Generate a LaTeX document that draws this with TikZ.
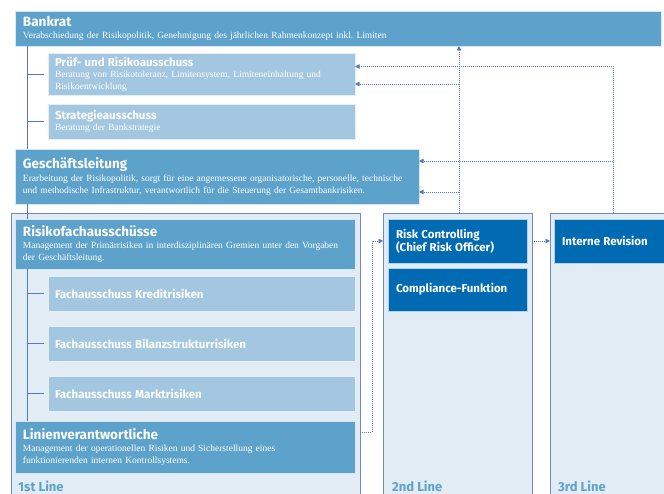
\documentclass[tikz,border=0pt]{standalone}
\usepackage{fontspec}
\setmainfont{Liberation Serif}
\newfontfamily\hdfont{Fira Sans}
\usetikzlibrary{arrows.meta,calc}
\definecolor{midblue}{RGB}{93,162,203}
\definecolor{lightblue}{RGB}{164,199,225}
\definecolor{darkblue}{RGB}{0,107,179}
\definecolor{panelfill}{RGB}{226,236,245}
\definecolor{panelline}{RGB}{112,137,194}
\definecolor{treeline}{RGB}{88,119,198}
\definecolor{connline}{RGB}{82,119,204}
\definecolor{labelblue}{RGB}{93,162,203}
\newcommand{\hdbig}{\hdfont\bfseries\fontsize{13.5}{15}\selectfont}
\newcommand{\hdmid}{\hdfont\bfseries\fontsize{11.5}{13.5}\selectfont}
\newcommand{\bdtext}{\fontsize{9.5}{11.6}\selectfont}
\begin{document}
\begin{tikzpicture}[x=1pt,y=-1pt,
  box/.style={anchor=north west,inner xsep=8pt,inner ysep=0pt,outer sep=0pt,
    align=left,text=white,font=\bdtext,draw=white!75!midblue,line width=0.6pt},
  midbox/.style={box,fill=midblue},
  lightbox/.style={box,fill=lightblue,draw=white!70!lightblue},
  darkbox/.style={box,fill=darkblue,draw=white!70!darkblue},
  panel/.style={anchor=north west,fill=panelfill,draw=panelline,line width=0.8pt,
    inner sep=0pt,outer sep=0pt},
  linelabel/.style={anchor=south west,text=labelblue,font=\hdfont\bfseries\fontsize{13}{14}\selectfont,inner sep=0pt},
  tree/.style={draw=treeline,line width=0.8pt},
  conn/.style={draw=connline,line width=0.7pt,dash pattern=on 1pt off 1pt},
  tip/.style={-{Triangle[length=4.5pt,width=4.5pt]}}
]
\useasboundingbox (0,0) rectangle (664,494);
% panels
\node[panel,minimum width=349pt,minimum height=300pt] (panel1) at (11,213) {};
\node[panel,minimum width=149pt,minimum height=300pt] (panel2) at (383,213) {};
\node[panel,minimum width=126pt,minimum height=300pt] (panel3) at (550,213) {};
\node[linelabel] (l1) at (18,492) {1st Line};
\node[linelabel] (l2) at (392,492) {2nd Line};
\node[linelabel] (l3) at (558,492) {3rd Line};
% boxes
\node[midbox,minimum width=646pt,minimum height=35pt,text width=630pt] (bankrat) at (15,11)
  {{\hdbig Bankrat}\\[0pt]Verabschiedung der Risikopolitik, Genehmigung des jährlichen Rahmenkonzept inkl.\ Limiten};
\node[lightbox,minimum width=307pt,minimum height=42pt,text width=293pt,inner xsep=7pt] (pruef) at (48,53)
  {{\hdmid Prüf- und Risikoausschuss}\\[0pt]Beratung von Risikotoleranz, Limitensystem, Limiteneinhaltung und\\Risikoentwicklung};
\node[lightbox,minimum width=307pt,minimum height=35pt,text width=293pt,inner xsep=7pt] (strat) at (48,104)
  {{\hdmid Strategieausschuss}\\[0pt]Beratung der Bankstrategie};
\node[midbox,minimum width=404pt,minimum height=55pt,text width=388pt] (gl) at (15,149)
  {{\hdbig Geschäftsleitung}\\[1pt]Erarbeitung der Risikopolitik, sorgt für eine angemessene organisatorische, personelle, technische\\und methodische Infrastruktur, verantwortlich für die Steuerung der Gesamtbankrisiken.};
\node[midbox,minimum width=340pt,minimum height=50pt,text width=324pt] (rfa) at (15,219)
  {{\hdbig Risikofachausschüsse}\\[1pt]Management der Primärrisiken in interdisziplinären Gremien unter den Vorgaben\\der Geschäftsleitung.};
\node[lightbox,minimum width=307pt,minimum height=35pt,text width=293pt,inner xsep=7pt] (kredit) at (48,276)
  {\hdmid Fachausschuss Kreditrisiken};
\node[lightbox,minimum width=307pt,minimum height=35pt,text width=293pt,inner xsep=7pt] (bilanz) at (48,326)
  {\hdmid Fachausschuss Bilanzstrukturrisiken};
\node[lightbox,minimum width=307pt,minimum height=35pt,text width=293pt,inner xsep=7pt] (markt) at (48,376)
  {\hdmid Fachausschuss Marktrisiken};
\node[midbox,minimum width=340pt,minimum height=52pt,text width=324pt] (linien) at (15,421)
  {{\hdbig Linienverantwortliche}\\[1pt]Management der operationellen Risiken und Sicherstellung eines\\funktionierenden internen Kontrollsystems.};
\node[darkbox,minimum width=139pt,minimum height=44pt,text width=123pt] (rc) at (388,219)
  {\hdmid Risk Controlling\\(Chief Risk Officer)};
\node[darkbox,minimum width=139pt,minimum height=43pt,text width=123pt] (comp) at (388,268)
  {\hdmid Compliance-Funktion};
\node[darkbox,minimum width=122pt,minimum height=44pt,text width=106pt] (ir) at (554,219)
  {\hdmid Interne Revision};
% tree lines
\coordinate (t1) at ($(bankrat.south west)+(12,0)$);
\coordinate (t2) at ($(rfa.south west)+(12,0)$);
\draw[tree] (t1) -- (t1 |- gl.north);
\draw[tree] (t1 |- gl.south) -- (t1 |- rfa.north);
\draw[tree] (t1 |- pruef.west) -- ($(pruef.west)+(-4,0)$);
\draw[tree] (t1 |- strat.west) -- ($(strat.west)+(-4,0)$);
\draw[tree] (t2) -- (t2 |- linien.north);
\draw[tree] (t2 |- kredit.west) -- ($(kredit.west)+(-4,0)$);
\draw[tree] (t2 |- bilanz.west) -- ($(bilanz.west)+(-4,0)$);
\draw[tree] (t2 |- markt.west) -- ($(markt.west)+(-4,0)$);
% connectors
\coordinate (v2) at ($(panel2.north west)+(76,0)$);
\coordinate (v3) at (panel3.north);
\draw[conn,tip] (v2) -- (v2 |- bankrat.south);
\draw[conn,tip] ($(v2 |- pruef.east)+(0,10)$) -- ($(pruef.east)+(0,10)$);
\draw[conn,tip] ($(v2 |- gl.east)+(0,15.5)$) -- ($(gl.east)+(0,15.5)$);
\draw[conn,tip] (v3) -- ($(v3 |- pruef.east)+(0,-7.5)$) -- ($(pruef.east)+(0,-7.5)$);
\draw[conn,tip] ($(v3 |- gl.east)+(0,-15.5)$) -- ($(gl.east)+(0,-15.5)$);
\coordinate (h1) at ($(panel1.east |- linien.north)+(0,11)$);
\coordinate (k1) at ($(panel1.east)+(12,0)$);
\draw[conn,tip] (h1) -- (k1 |- h1) -- (k1 |- rc.west) -- (panel2.west |- rc.west);
\draw[conn,tip] (panel2.east |- rc.west) -- (panel3.west |- rc.west);
\end{tikzpicture}
\end{document}
